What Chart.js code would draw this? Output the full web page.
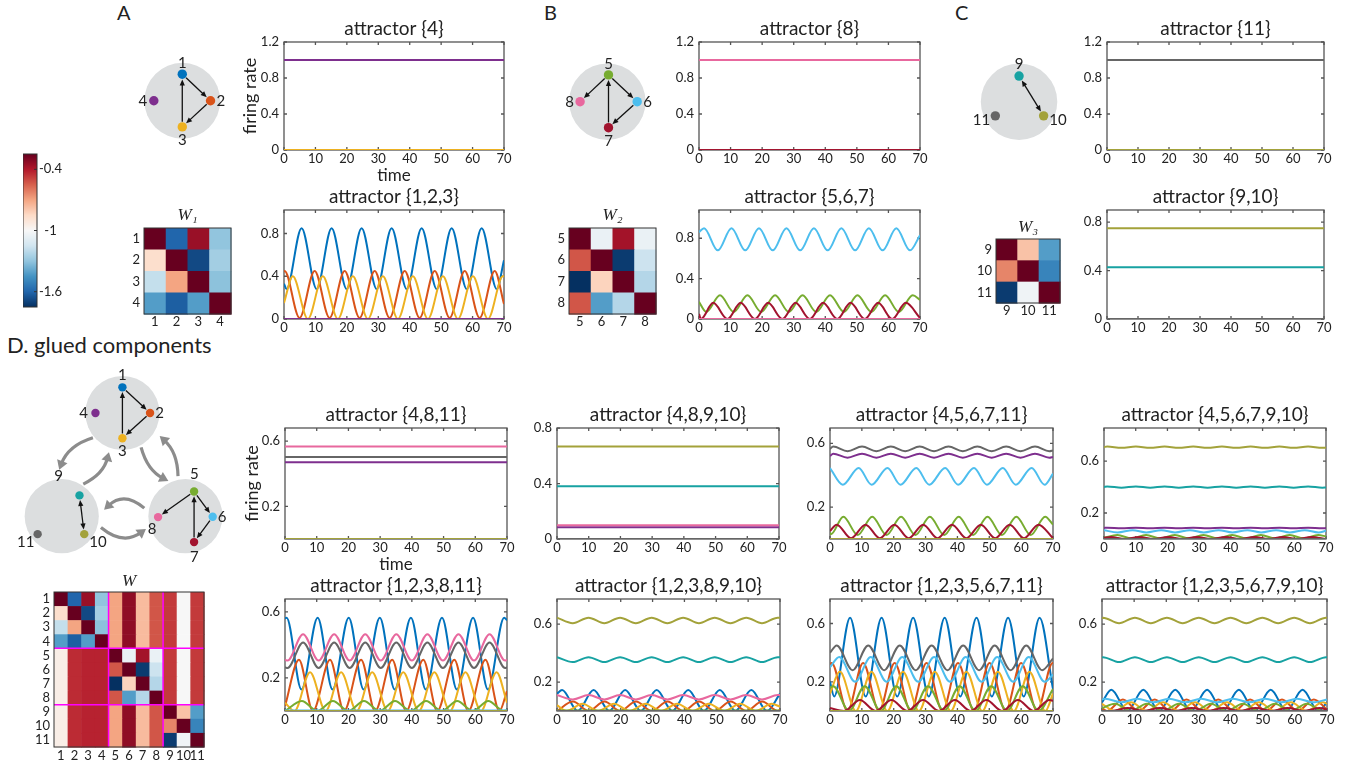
<!DOCTYPE html>
<html>
<head>
<meta charset="utf-8">
<title>glued components</title>
<script src="https://cdn.jsdelivr.net/npm/chart.js@4.4.1/dist/chart.umd.min.js"></script>
<style>
  html, body { margin: 0; padding: 0; background: #fff; }
  body { position: relative; width: 1349px; height: 761px; overflow: hidden; font-family: Lato, "Open Sans", sans-serif; color: #222; }
  canvas { position: absolute; }
  .panel { position: absolute; font-size: 20px; line-height: 1; white-space: nowrap; }
</style>
</head>
<body>
<div class="panel" style="left:117px;top:2px">A</div>
<div class="panel" style="left:544px;top:2px">B</div>
<div class="panel" style="left:955px;top:2px">C</div>
<div class="panel" style="left:7px;top:334px;font-size:22px">D. glued components</div>
<script>
const FONT = 'Lato, "Open Sans", sans-serif';
const INK = '#222';

// neuron colours, neuron k -> neuronColors[k - 1]
const neuronColors = ['#0072BD', '#D95319', '#EDB120', '#7E2F8E', '#77AC30', '#4DBEEE',
                      '#A2142F', '#E8689E', '#17A2A2', '#A3A23A', '#666666'];

const timeTicks = [0, 10, 20, 30, 40, 50, 60, 70];

// ---- steady states (one level per neuron) ----
const at4_levels = [0, 0, 0, 1.0];                 // neurons 1-4
const at8_levels = [0, 0, 0, 1.0];                 // neurons 5-8
const at11_levels = [0, 0, 1.0];                   // neurons 9-11
const at910_levels = [0.428, 0.75, 0];             // neurons 9-11
const at4811_levels = [0, 0, 0, 0.47, 0, 0, 0, 0.567, 0, 0, 0.503];
const at48910_levels = [0, 0, 0, 0.084, 0, 0, 0, 0.1, 0.381, 0.668, 0];

// ---- limit cycles, [time, rate] ----
// attractor {1,2,3}
const at123_n1 = [[0,0.33],[0.8,0.28],[5.6,0.85],[10.4,0.28],[15.15,0.85],[19.95,0.28],[24.7,0.85],[29.5,0.28],[34.25,0.85],[39.05,0.28],[43.8,0.85],[48.6,0.28],[53.35,0.85],[58.15,0.28],[62.9,0.85],[67.7,0.28],[70,0.55]];
const at123_n2 = [[0,0.44],[0.2,0.45],[4.95,0.01],[9.75,0.45],[14.5,0.01],[19.3,0.45],[24.05,0.01],[28.85,0.45],[33.6,0.01],[38.4,0.45],[43.15,0.01],[47.95,0.45],[52.7,0.01],[57.5,0.45],[62.25,0.01],[67.05,0.45],[70,0.14]];
const at123_n3 = [[0,0.15],[2.8,0.4],[7.6,0],[12.35,0.4],[17.15,0],[21.9,0.4],[26.7,0],[31.45,0.4],[36.25,0],[41.0,0.4],[45.8,0],[50.55,0.4],[55.35,0],[60.1,0.4],[64.9,0],[69.65,0.4],[70,0.4]];

// attractor {5,6,7}
const at567_n5 = [[0,0.17],[2.3,0.07],[6.65,0.235],[11.0,0.07],[15.35,0.235],[19.7,0.07],[24.1,0.235],[28.45,0.07],[32.8,0.235],[37.15,0.07],[41.5,0.235],[45.9,0.07],[50.2,0.235],[54.6,0.07],[58.95,0.235],[63.3,0.07],[67.7,0.235],[70,0.19]];
const at567_n6 = [[0,0.86],[1.6,0.9],[5.95,0.68],[10.3,0.9],[14.65,0.68],[19.0,0.9],[23.35,0.68],[27.7,0.9],[32.05,0.68],[36.4,0.9],[40.75,0.68],[45.1,0.9],[49.45,0.68],[53.8,0.9],[58.15,0.68],[62.5,0.9],[66.85,0.68],[70,0.83]];
const at567_n7 = [[0,0.05],[0.6,0],[4.5,0.16],[9.0,0],[13.2,0.16],[17.7,0],[21.9,0.16],[26.4,0],[30.6,0.16],[35.1,0],[39.3,0.16],[43.8,0],[48.0,0.16],[52.5,0],[56.75,0.16],[61.2,0],[65.5,0.16],[70,0.01]];

// attractor {4,5,6,7,11}
const d3_n4 = [[0,0.52],[1.0,0.535],[5.5,0.51],[10.05,0.535],[14.55,0.51],[19.1,0.535],[23.6,0.51],[28.15,0.535],[32.65,0.51],[37.2,0.535],[41.7,0.51],[46.25,0.535],[50.75,0.51],[55.3,0.535],[59.8,0.51],[64.35,0.535],[68.85,0.51],[70,0.515]];
const d3_n5 = [[0,0.04],[0.3,0.03],[4.2,0.14],[8.7,0.025],[13.25,0.14],[17.75,0.025],[22.3,0.14],[26.8,0.025],[31.35,0.14],[35.85,0.025],[40.4,0.14],[44.9,0.025],[49.45,0.14],[53.95,0.025],[58.5,0.14],[63.0,0.025],[67.55,0.14],[70,0.09]];
const d3_n6 = [[0,0.445],[4.0,0.34],[9.0,0.445],[13.05,0.34],[18.05,0.445],[22.1,0.34],[27.1,0.445],[31.15,0.34],[36.15,0.445],[40.2,0.34],[45.2,0.445],[49.25,0.34],[54.25,0.445],[58.3,0.34],[63.3,0.445],[67.35,0.34],[70,0.41]];
const d3_n7 = [[0,0.05],[2.1,0.09],[6.6,0.005],[11.15,0.09],[15.65,0.005],[20.2,0.09],[24.7,0.005],[29.25,0.09],[33.75,0.005],[38.3,0.09],[42.8,0.005],[47.35,0.09],[51.85,0.005],[56.4,0.09],[60.9,0.005],[65.45,0.09],[70,0.005]];
const d3_n11 = [[0,0.565],[1.0,0.58],[5.5,0.55],[10.05,0.58],[14.55,0.55],[19.1,0.58],[23.6,0.55],[28.15,0.58],[32.65,0.55],[37.2,0.58],[41.7,0.55],[46.25,0.58],[50.75,0.55],[55.3,0.58],[59.8,0.55],[64.35,0.58],[68.85,0.55],[70,0.555]];

// attractor {4,5,6,7,9,10}
const d4_n4 = [[0,0.085],[1.0,0.087],[5.5,0.083],[10.05,0.087],[14.55,0.083],[19.1,0.087],[23.6,0.083],[28.15,0.087],[32.65,0.083],[37.2,0.087],[41.7,0.083],[46.25,0.087],[50.75,0.083],[55.3,0.087],[59.8,0.083],[64.35,0.087],[68.85,0.083],[70,0.084]];
const d4_n5 = [[0,0.01],[4.2,0.03],[8.7,0.005],[13.25,0.03],[17.75,0.005],[22.3,0.03],[26.8,0.005],[31.35,0.03],[35.85,0.005],[40.4,0.03],[44.9,0.005],[49.45,0.03],[53.95,0.005],[58.5,0.03],[63.0,0.005],[67.55,0.03],[70,0.02]];
const d4_n6 = [[0,0.068],[4.3,0.05],[9.0,0.068],[13.35,0.05],[18.05,0.068],[22.4,0.05],[27.1,0.068],[31.45,0.05],[36.15,0.068],[40.5,0.05],[45.2,0.068],[49.55,0.05],[54.25,0.068],[58.6,0.05],[63.3,0.068],[67.65,0.05],[70,0.064]];
const d4_n7 = [[0,0.008],[2.1,0.015],[6.6,0],[11.15,0.015],[15.65,0],[20.2,0.015],[24.7,0],[29.25,0.015],[33.75,0],[38.3,0.015],[42.8,0],[47.35,0.015],[51.85,0],[56.4,0.015],[60.9,0],[65.45,0.015],[70,0]];
const d4_n9 = [[0,0.4],[1.0,0.405],[5.5,0.395],[10.05,0.405],[14.55,0.395],[19.1,0.405],[23.6,0.395],[28.15,0.405],[32.65,0.395],[37.2,0.405],[41.7,0.395],[46.25,0.405],[50.75,0.395],[55.3,0.405],[59.8,0.395],[64.35,0.405],[68.85,0.395],[70,0.397]];
const d4_n10 = [[0,0.707],[1.0,0.712],[5.5,0.702],[10.05,0.712],[14.55,0.702],[19.1,0.712],[23.6,0.702],[28.15,0.712],[32.65,0.702],[37.2,0.712],[41.7,0.702],[46.25,0.712],[50.75,0.702],[55.3,0.712],[59.8,0.702],[64.35,0.712],[68.85,0.702],[70,0.704]];

// attractor {1,2,3,8,11}
const d5_n1 = [[0,0.56],[0.5,0.565],[5.2,0.13],[10.3,0.565],[15.0,0.13],[20.1,0.565],[24.8,0.13],[29.9,0.565],[34.6,0.13],[39.7,0.565],[44.4,0.13],[49.5,0.565],[54.2,0.13],[59.3,0.565],[64.0,0.13],[69.1,0.565],[70,0.55]];
const d5_n2 = [[0,0.03],[4.4,0.31],[8.8,0],[14.2,0.31],[18.6,0],[24.0,0.31],[28.4,0],[33.8,0.31],[38.2,0],[43.6,0.31],[48.0,0],[53.4,0.31],[57.8,0],[63.2,0.31],[67.6,0],[70,0.12]];
const d5_n3 = [[0,0.05],[3.0,0],[7.9,0.235],[12.8,0],[17.7,0.235],[22.6,0],[27.5,0.235],[32.4,0],[37.3,0.235],[42.2,0],[47.1,0.235],[52.0,0],[56.9,0.235],[61.8,0],[66.7,0.235],[70,0.05]];
const d5_n5 = [[0,0],[5.3,0.06],[10.2,0],[15.1,0.06],[20.0,0],[24.9,0.06],[29.8,0],[34.7,0.06],[39.6,0],[44.5,0.06],[49.4,0],[54.3,0.06],[59.2,0],[64.1,0.06],[69.0,0],[70,0.005]];
const d5_n8 = [[0,0.31],[0.8,0.305],[5.7,0.465],[10.6,0.305],[15.5,0.465],[20.4,0.305],[25.3,0.465],[30.2,0.305],[35.1,0.465],[40.0,0.305],[44.9,0.465],[49.8,0.305],[54.7,0.465],[59.6,0.305],[64.5,0.465],[69.4,0.305],[70,0.31]];
const d5_n11 = [[0,0.265],[0.8,0.26],[5.7,0.415],[10.6,0.26],[15.5,0.415],[20.4,0.26],[25.3,0.415],[30.2,0.26],[35.1,0.415],[40.0,0.26],[44.9,0.415],[49.8,0.26],[54.7,0.415],[59.6,0.26],[64.5,0.415],[69.4,0.26],[70,0.265]];

// attractor {1,2,3,8,9,10}
const d6_n1 = [[0,0.12],[1.6,0.145],[6.5,0],[11.5,0.145],[16.4,0],[21.4,0.145],[26.3,0],[31.3,0.145],[36.2,0],[41.2,0.145],[46.1,0],[51.1,0.145],[56.0,0],[61.0,0.145],[65.9,0],[70,0.12]];
const d6_n2 = [[0,0],[5.0,0.065],[9.9,0],[14.9,0.065],[19.8,0],[24.8,0.065],[29.7,0],[34.7,0.065],[39.6,0],[44.6,0.065],[49.5,0],[54.5,0.065],[59.4,0],[64.4,0.065],[69.3,0],[70,0.01]];
const d6_n3 = [[0,0.04],[3.0,0],[8.0,0.05],[12.9,0],[17.9,0.05],[22.8,0],[27.8,0.05],[32.7,0],[37.7,0.05],[42.6,0],[47.6,0.05],[52.5,0],[57.5,0.05],[62.4,0],[67.4,0.05],[70,0.03]];
const d6_n8 = [[0,0.11],[4.95,0.08],[9.9,0.11],[14.85,0.08],[19.8,0.11],[24.75,0.08],[29.7,0.11],[34.65,0.08],[39.6,0.11],[44.55,0.08],[49.5,0.11],[54.45,0.08],[59.4,0.11],[64.35,0.08],[69.3,0.11],[70,0.11]];
const d6_n9 = [[0,0.372],[4.95,0.338],[9.9,0.372],[14.85,0.338],[19.8,0.372],[24.75,0.338],[29.7,0.372],[34.65,0.338],[39.6,0.372],[44.55,0.338],[49.5,0.372],[54.45,0.338],[59.4,0.372],[64.35,0.338],[69.3,0.372],[70,0.372]];
const d6_n10 = [[0,0.645],[4.95,0.607],[9.9,0.645],[14.85,0.607],[19.8,0.645],[24.75,0.607],[29.7,0.645],[34.65,0.607],[39.6,0.645],[44.55,0.607],[49.5,0.645],[54.45,0.607],[59.4,0.645],[64.35,0.607],[69.3,0.645],[70,0.645]];

// attractor {1,2,3,5,6,7,11}
const d7_n1 = [[0,0.2],[1.3,0.1],[6.3,0.64],[11.2,0.1],[16.2,0.64],[21.1,0.1],[26.1,0.64],[31.0,0.1],[36.0,0.64],[40.9,0.1],[46.0,0.64],[50.8,0.1],[55.9,0.64],[60.8,0.1],[65.8,0.64],[70,0.15]];
const d7_n2 = [[0,0.32],[0.5,0.33],[5.5,0],[10.4,0.33],[15.4,0],[20.3,0.33],[25.3,0],[30.3,0.33],[35.3,0],[40.2,0.33],[45.2,0],[50.1,0.33],[55.1,0],[60.0,0.33],[65.0,0],[69.9,0.33],[70,0.33]];
const d7_n3 = [[0,0.12],[3.1,0.27],[8.1,0],[13.0,0.27],[18.0,0],[22.9,0.27],[27.9,0],[32.9,0.27],[37.9,0],[42.8,0.27],[47.8,0],[52.7,0.27],[57.7,0],[62.6,0.27],[67.6,0],[70,0.12]];
const d7_n5 = [[0,0.16],[1.0,0.17],[6.0,0],[10.9,0.17],[15.9,0],[20.8,0.17],[25.8,0],[30.8,0.17],[35.8,0],[40.7,0.17],[45.7,0],[50.6,0.17],[55.6,0],[60.5,0.17],[65.5,0],[70,0.15]];
const d7_n6 = [[0,0.3],[2.9,0.37],[7.9,0.2],[12.8,0.37],[17.8,0.2],[22.7,0.37],[27.7,0.2],[32.7,0.37],[37.7,0.2],[42.6,0.37],[47.6,0.2],[52.5,0.37],[57.5,0.2],[62.4,0.37],[67.4,0.2],[70,0.25]];
const d7_n7 = [[0,0.02],[4.4,0],[9.4,0.075],[14.3,0],[19.3,0.075],[24.2,0],[29.2,0.075],[34.2,0],[39.2,0.075],[44.1,0],[49.1,0.075],[54.0,0],[59.0,0.075],[63.9,0],[68.9,0.075],[70,0.07]];
const d7_n11 = [[0,0.4],[2.1,0.45],[7.1,0.28],[12.0,0.45],[17.0,0.28],[21.9,0.45],[26.9,0.28],[31.9,0.45],[36.9,0.28],[41.8,0.45],[46.8,0.28],[51.7,0.45],[56.7,0.28],[61.6,0.45],[66.6,0.28],[70,0.36]];

// attractor {1,2,3,5,6,7,9,10}
const d8_n1 = [[0,0.06],[2.9,0.147],[7.9,0],[12.85,0.147],[17.8,0],[22.8,0.147],[27.7,0],[32.7,0.147],[37.6,0],[42.6,0.147],[47.5,0],[52.5,0.147],[57.4,0],[62.4,0.147],[67.3,0],[70,0.06]];
const d8_n2 = [[0,0.02],[1.5,0],[6.5,0.08],[11.4,0],[16.4,0.08],[21.3,0],[26.3,0.08],[31.2,0],[36.2,0.08],[41.1,0],[46.1,0.08],[51.0,0],[56.0,0.08],[60.9,0],[65.9,0.08],[70,0.01]];
const d8_n3 = [[0,0.05],[4.0,0],[9.0,0.06],[13.95,0],[18.95,0.06],[23.9,0],[28.9,0.06],[33.85,0],[38.85,0.06],[43.8,0],[48.8,0.06],[53.75,0],[58.75,0.06],[63.7,0],[68.7,0.06],[70,0.05]];
const d8_n5 = [[0,0.02],[4.0,0.05],[9.0,0],[13.95,0.05],[18.95,0],[23.9,0.05],[28.9,0],[33.85,0.05],[38.85,0],[43.8,0.05],[48.8,0],[53.75,0.05],[58.75,0],[63.7,0.05],[68.7,0],[70,0.01]];
const d8_n6 = [[0,0.08],[1.0,0.085],[6.0,0.06],[10.95,0.085],[15.95,0.06],[20.9,0.085],[25.9,0.06],[30.85,0.085],[35.85,0.06],[40.8,0.085],[45.8,0.06],[50.75,0.085],[55.75,0.06],[60.7,0.085],[65.7,0.06],[70,0.08]];
const d8_n7 = [[0,0],[3.0,0],[8.0,0.02],[12.95,0],[17.95,0.02],[22.9,0],[27.9,0.02],[32.85,0],[37.85,0.02],[42.8,0],[47.8,0.02],[52.75,0],[57.75,0.02],[62.7,0],[67.7,0.02],[70,0.01]];
const d8_n9 = [[0,0.37],[0.3,0.372],[5.3,0.338],[10.25,0.372],[15.2,0.338],[20.2,0.372],[25.1,0.338],[30.1,0.372],[35.0,0.338],[40.0,0.372],[44.9,0.338],[49.9,0.372],[54.8,0.338],[59.8,0.372],[64.7,0.338],[69.7,0.372],[70,0.372]];
const d8_n10 = [[0,0.64],[0.3,0.645],[5.3,0.607],[10.25,0.645],[15.2,0.607],[20.2,0.645],[25.1,0.607],[30.1,0.645],[35.0,0.607],[40.0,0.645],[44.9,0.607],[49.9,0.645],[54.8,0.607],[59.8,0.645],[64.7,0.607],[69.7,0.645],[70,0.645]];

// ---- connectivity matrices ----
const W1 = [[0, -1.6, -0.35, -1.3], [-0.87, 0, -1.68, -1.26], [-1.18, -0.7, 0, -1.31], [-1.42, -1.62, -1.42, 0]];
const W2 = [[0, -1.05, -0.37, -1.05], [-0.53, 0, -1.72, -1.16], [-1.75, -0.83, 0, -1.22], [-0.53, -1.42, -1.22, 0]];
const W3 = [[0, -0.78, -1.42], [-0.63, 0, -1.5], [-1.72, -1.03, 0]];
// off-block entries of the glued W, one value per presynaptic neuron (column)
const wGlueByCol = [-0.95, -0.44, -0.42, -0.42, -0.7, -0.33, -0.76, -0.53, -0.47, -1.0, -0.47];
const cbarTicks = [-1.6, -1, -0.4];
const cLim = [-1.75, -0.25];

// glued matrix: components on the diagonal, column values elsewhere
const blocks = [[W1, 0], [W2, 4], [W3, 8]];
const W = wGlueByCol.map((_, i) => wGlueByCol.map((v, j) => {
  const blk = blocks.find(([m, o]) => i >= o && i < o + m.length && j >= o && j < o + m.length);
  return blk ? blk[0][i - blk[1]][j - blk[1]] : v;
}));

// ---- network layouts (unit = disc radius) ----
const graphA = {
  nodes: [1, 2, 3, 4], discs: [[0, 0]],
  xy: [[0, 0.70], [0.745, 0], [0, -0.69], [-0.75, 0]],
  lab: [[0, 1.0], [1.02, 0], [0, -1.04], [-1.04, 0]],
  edges: [[1, 2], [2, 3], [3, 1]], both: [], arcs: []
};
const graphB = {
  nodes: [5, 6, 7, 8], discs: [[-0.03, 0]],
  xy: [[0, 0.70], [0.75, 0], [0, -0.68], [-0.743, 0]],
  lab: [[0, 0.99], [1.02, 0], [0, -1.03], [-1.02, 0]],
  edges: [[5, 6], [6, 7], [7, 5], [5, 8]], both: [], arcs: []
};
const graphC = {
  nodes: [9, 10, 11], discs: [[0, 0]],
  xy: [[0, 0.67], [0.643, -0.371], [-0.62, -0.371]],
  lab: [[0, 0.99], [1.02, -0.48], [-0.98, -0.48]],
  edges: [], both: [[9, 10]], arcs: []
};
const graphD = {
  nodes: [1, 2, 3, 4, 5, 6, 7, 8, 9, 10, 11],
  discs: [[0, 0], [-1.636, -2.787], [1.699, -2.787]],
  xy: [[0, 0.694], [0.745, 0], [0, -0.68], [-0.727, 0], [1.932, -2.122], [2.434, -2.805],
       [1.932, -3.488], [0.961, -2.813], [-1.158, -2.226], [-1.029, -3.273], [-2.286, -3.273]],
  lab: [[0, 1.01], [1.005, 0], [0, -1.04], [-1.047, 0], [1.94, -1.66], [2.69, -2.805],
        [1.94, -3.9], [0.80, -3.135], [-1.72, -1.71], [-0.657, -3.48], [-2.605, -3.48]],
  edges: [[1, 2], [2, 3], [3, 1], [5, 6], [6, 7], [7, 5], [5, 8]], both: [[9, 10]],
  // component-to-component arrows: start, control, tip
  arcs: [[[-0.795, -0.668], [-1.465, -0.875], [-1.704, -1.532]],
         [[-1.055, -1.922], [-0.506, -1.652], [-0.364, -1.057]],
         [[0.504, -0.927], [0.67, -1.545], [1.239, -1.836]],
         [[1.499, -1.706], [1.488, -1.057], [1.005, -0.623]],
         [[0.59, -2.571], [0.044, -2.104], [-0.494, -2.616]],
         [[-0.579, -3.091], [0.018, -3.584], [0.634, -3.135]]]
};

// ---------------------------------------------------------------
function addCanvas(left, top, w, h) {
  const cv = document.createElement('canvas');
  cv.width = w; cv.height = h;
  cv.style.left = left + 'px'; cv.style.top = top + 'px';
  cv.style.width = w + 'px'; cv.style.height = h + 'px';
  document.body.appendChild(cv);
  return cv;
}

function toPoints(d) {
  return typeof d === 'number'
    ? [{ x: timeTicks[0], y: d }, { x: timeTicks[timeTicks.length - 1], y: d }]
    : d.map(([x, y]) => ({ x, y }));
}

const hex = c => [1, 3, 5].map(i => parseInt(c.slice(i, i + 2), 16));
const rdbu = ['#053061', '#2166ac', '#4393c3', '#92c5de', '#d1e5f0', '#f7f7f7',
              '#fddbc7', '#f4a582', '#d6604d', '#b2182b', '#67001f'].map(hex);
function cmap(v) {
  let f = (v - cLim[0]) / (cLim[1] - cLim[0]);
  f = Math.max(0, Math.min(1, f)) * (rdbu.length - 1);
  const i = Math.min(Math.floor(f), rdbu.length - 2), u = f - i;
  const c = rdbu[i].map((a, k) => Math.round(a + (rdbu[i + 1][k] - a) * u));
  return `rgb(${c[0]},${c[1]},${c[2]})`;
}

// matlab style box with inward ticks on all four sides
const axesBox = {
  id: 'axesBox',
  beforeDatasetsDraw(chart) {
    const { ctx, chartArea: a, scales: { x, y } } = chart;
    ctx.save();
    ctx.strokeStyle = '#555';
    ctx.lineWidth = 1.3;
    ctx.strokeRect(a.left, a.top, a.right - a.left, a.bottom - a.top);
    ctx.beginPath();
    x.ticks.forEach(t => {
      const p = x.getPixelForValue(t.value);
      ctx.moveTo(p, a.bottom); ctx.lineTo(p, a.bottom - 3);
      ctx.moveTo(p, a.top); ctx.lineTo(p, a.top + 3);
    });
    y.ticks.forEach(t => {
      const p = y.getPixelForValue(t.value);
      ctx.moveTo(a.left, p); ctx.lineTo(a.left + 3, p);
      ctx.moveTo(a.right, p); ctx.lineTo(a.right - 3, p);
    });
    ctx.stroke();
    ctx.restore();
  }
};

const noInteraction = { responsive: false, animation: false, events: [] };
const quiet = { legend: { display: false }, tooltip: { enabled: false } };
const tickFont = { family: FONT, size: 13 };

function lineChart(s) {
  const [l, t, r, b] = s.box;
  const yw = s.yLab ? 45 : 30, xh = s.xLab ? 36 : 20, th = 26, pr = 12;
  const cv = addCanvas(l - yw, t - th, yw + (r - l) + pr, th + (b - t) + xh);
  // later neurons are painted over earlier ones
  const datasets = s.data.map((d, i) => ({
    data: toPoints(d),
    order: -i,
    borderColor: neuronColors[s.first - 1 + i],
    borderWidth: 2, pointRadius: 0, fill: false,
    cubicInterpolationMode: 'monotone'
  }));
  const ymax = 1.2 * Math.max(...datasets.flatMap(d => d.data.map(p => p.y)));
  new Chart(cv, {
    type: 'line',
    data: { datasets },
    options: {
      ...noInteraction,
      layout: { padding: { left: 0, right: pr, top: 0, bottom: 0 } },
      plugins: {
        ...quiet,
        title: { display: true, text: s.title, fullSize: false, color: INK,
                 font: { family: FONT, size: 19, weight: 'normal' }, padding: { top: 1.6, bottom: 1.6 } }
      },
      scales: {
        x: {
          type: 'linear', min: timeTicks[0], max: timeTicks[timeTicks.length - 1],
          grid: { display: false, drawTicks: false }, border: { display: false },
          ticks: { color: INK, font: tickFont, padding: 1.5, maxRotation: 0, autoSkip: false, callback: v => String(v) },
          afterBuildTicks: a => { a.ticks = timeTicks.map(v => ({ value: v })); },
          afterFit: a => { a.height = xh; },
          title: { display: !!s.xLab, text: 'time', color: INK, font: { family: FONT, size: 17 }, padding: { top: 0, bottom: 0 } }
        },
        y: {
          type: 'linear', min: 0, max: ymax,
          grid: { display: false, drawTicks: false }, border: { display: false },
          ticks: { color: INK, font: tickFont, padding: 5, autoSkip: false, callback: v => String(+v.toFixed(2)) },
          afterBuildTicks: a => { a.ticks = s.yTicks.map(v => ({ value: v })); },
          afterFit: a => { a.width = yw; },
          title: { display: !!s.yLab, text: 'firing rate', color: INK, font: { family: FONT, size: 18 }, padding: { top: s.yLabPad || 0, bottom: 0 } }
        }
      }
    },
    plugins: [axesBox]
  });
}

function heatChart(s) {
  const [l, t, r, b] = s.box;
  const n = s.labels.length, xh = 20, th = 24, pr = 5;
  const cv = addCanvas(l - s.yw, t - th, s.yw + (r - l) + pr, th + (b - t) + xh);
  const pt = th - s.titleGap - 10.2;
  const axis = (extra) => Object.assign({
    type: 'linear', min: 0.5, max: n + 0.5,
    grid: { display: false, drawTicks: false }, border: { display: false },
    afterBuildTicks: a => { a.ticks = s.labels.map((_, i) => ({ value: i + 1 })); }
  }, extra);
  new Chart(cv, {
    type: 'scatter',
    data: { datasets: [] },
    options: {
      ...noInteraction,
      layout: { padding: { left: 0, right: pr, top: 0, bottom: 0 } },
      plugins: {
        ...quiet,
        title: { display: true, text: s.title, fullSize: false, color: INK,
                 font: { family: '"Liberation Serif", "DejaVu Serif", serif', size: 17, style: 'italic', weight: 'normal' },
                 padding: { top: pt, bottom: th - 20.4 - pt } }
      },
      scales: {
        x: axis({ ticks: { color: INK, font: tickFont, padding: s.xPad, autoSkip: false, maxRotation: 0, callback: (v, i) => s.labels[i] },
                  afterFit: a => { a.height = xh; } }),
        y: axis({ reverse: true, ticks: { color: INK, font: tickFont, padding: 4, autoSkip: false, callback: (v, i) => s.labels[i] },
                  afterFit: a => { a.width = s.yw; } })
      }
    },
    plugins: [{
      id: 'cells',
      beforeDatasetsDraw(chart) {
        const { ctx, chartArea: a, scales: { x, y } } = chart;
        ctx.save();
        s.matrix.forEach((row, i) => row.forEach((v, j) => {
          const x0 = x.getPixelForValue(j + 0.5), x1 = x.getPixelForValue(j + 1.5);
          const y0 = y.getPixelForValue(i + 0.5), y1 = y.getPixelForValue(i + 1.5);
          ctx.fillStyle = cmap(v);
          ctx.fillRect(x0, Math.min(y0, y1), x1 - x0 + 0.6, Math.abs(y1 - y0) + 0.6);
        }));
        if (s.splits) {
          ctx.strokeStyle = '#ff00ff';
          ctx.lineWidth = 1.5;
          ctx.beginPath();
          s.splits.forEach(k => {
            const px = x.getPixelForValue(k), py = y.getPixelForValue(k);
            ctx.moveTo(px, a.top); ctx.lineTo(px, a.bottom);
            ctx.moveTo(a.left, py); ctx.lineTo(a.right, py);
          });
          ctx.stroke();
        }
        ctx.strokeStyle = '#333';
        ctx.lineWidth = 1;
        ctx.strokeRect(a.left, a.top, a.right - a.left, a.bottom - a.top);
        ctx.restore();
      }
    }]
  });
}

function colorbarChart(box) {
  const [l, t, r, b] = box, aw = 28, pad = 10;
  const cv = addCanvas(l, t - pad, (r - l) + aw, (b - t) + 2 * pad);
  new Chart(cv, {
    type: 'scatter',
    data: { datasets: [] },
    options: {
      ...noInteraction,
      layout: { padding: { left: 0, right: 0, top: pad, bottom: pad } },
      plugins: quiet,
      scales: {
        x: { display: false, min: 0, max: 1 },
        y: {
          position: 'right', min: cLim[0], max: cLim[1],
          grid: { display: false, drawTicks: false }, border: { display: false },
          ticks: { color: INK, font: tickFont, padding: 2, crossAlign: 'center', callback: v => String(v) },
          afterBuildTicks: a => { a.ticks = cbarTicks.map(v => ({ value: v })); },
          afterFit: a => { a.width = aw; }
        }
      }
    },
    plugins: [{
      id: 'ramp',
      beforeDatasetsDraw(chart) {
        const { ctx, chartArea: a, scales: { y } } = chart;
        ctx.save();
        for (let py = Math.floor(a.top); py < a.bottom; py++) {
          ctx.fillStyle = cmap(y.getValueForPixel(py + 0.5));
          ctx.fillRect(a.left, py, a.right - a.left, 1);
        }
        ctx.strokeStyle = '#333';
        ctx.lineWidth = 1;
        ctx.strokeRect(a.left, a.top, a.right - a.left, a.bottom - a.top);
        ctx.beginPath();
        cbarTicks.forEach(v => {
          const p = y.getPixelForValue(v);
          ctx.moveTo(a.right, p); ctx.lineTo(a.right - 3, p);
        });
        ctx.stroke();
        ctx.restore();
      }
    }]
  });
}

function arrowHead(ctx, tip, dir, len, half) {
  const [dx, dy] = dir;
  ctx.beginPath();
  ctx.moveTo(tip[0], tip[1]);
  ctx.lineTo(tip[0] - dx * len - dy * half, tip[1] - dy * len + dx * half);
  ctx.lineTo(tip[0] - dx * len + dy * half, tip[1] - dy * len - dx * half);
  ctx.closePath();
  ctx.fill();
}

function graphChart(g, cx, cy, unit, xr, yr, r) {
  const left = Math.round(cx + xr[0] * unit), top = Math.round(cy - yr[1] * unit);
  const w = Math.round((xr[1] - xr[0]) * unit), h = Math.round((yr[1] - yr[0]) * unit);
  const cv = addCanvas(left, top, w, h);
  const idx = n => g.nodes.indexOf(n);
  new Chart(cv, {
    type: 'scatter',
    data: { datasets: [{
      data: g.xy.map(([x, y]) => ({ x, y })),
      pointRadius: r, pointHoverRadius: r, pointBorderWidth: 0,
      pointBackgroundColor: g.nodes.map(n => neuronColors[n - 1])
    }] },
    options: {
      ...noInteraction,
      layout: { padding: 0 },
      plugins: quiet,
      scales: {
        x: { display: false, min: (left - cx) / unit, max: (left + w - cx) / unit },
        y: { display: false, min: (cy - top - h) / unit, max: (cy - top) / unit }
      }
    },
    plugins: [{
      id: 'graph',
      beforeDatasetsDraw(chart) {
        const { ctx, scales: { x, y } } = chart;
        const P = ([a, b]) => [x.getPixelForValue(a), y.getPixelForValue(b)];
        const rad = x.getPixelForValue(1) - x.getPixelForValue(0);
        ctx.save();
        ctx.fillStyle = '#dcdedf';
        g.discs.forEach(d => {
          const [px, py] = P(d);
          ctx.beginPath(); ctx.arc(px, py, rad, 0, 2 * Math.PI); ctx.fill();
        });
        // arrows between components
        ctx.strokeStyle = ctx.fillStyle = '#8c8c8c';
        ctx.lineWidth = 3.2;
        g.arcs.forEach(([p0, c, p2]) => {
          const a0 = P(p0), ac = P(c), a2 = P(p2);
          let dx = a2[0] - ac[0], dy = a2[1] - ac[1];
          const len = Math.hypot(dx, dy); dx /= len; dy /= len;
          ctx.beginPath();
          ctx.moveTo(a0[0], a0[1]);
          ctx.quadraticCurveTo(ac[0], ac[1], a2[0] - dx * 6, a2[1] - dy * 6);
          ctx.stroke();
          arrowHead(ctx, a2, [dx, dy], 9, 5.5);
        });
        // synaptic edges
        ctx.strokeStyle = ctx.fillStyle = '#111';
        ctx.lineWidth = 1.3;
        const edge = (a, b, twoWay) => {
          const pa = P(g.xy[idx(a)]), pb = P(g.xy[idx(b)]);
          let dx = pb[0] - pa[0], dy = pb[1] - pa[1];
          const len = Math.hypot(dx, dy); dx /= len; dy /= len;
          const gap = r + 0.5;
          const s = [pa[0] + dx * gap, pa[1] + dy * gap], e = [pb[0] - dx * gap, pb[1] - dy * gap];
          ctx.beginPath();
          ctx.moveTo(s[0] + (twoWay ? dx * 4 : 0), s[1] + (twoWay ? dy * 4 : 0));
          ctx.lineTo(e[0] - dx * 4, e[1] - dy * 4);
          ctx.stroke();
          arrowHead(ctx, e, [dx, dy], 6, 2.6);
          if (twoWay) arrowHead(ctx, s, [-dx, -dy], 6, 2.6);
        };
        g.edges.forEach(([a, b]) => edge(a, b, false));
        g.both.forEach(([a, b]) => edge(a, b, true));
        ctx.restore();
      },
      afterDatasetsDraw(chart) {
        const { ctx, scales: { x, y } } = chart;
        ctx.save();
        ctx.fillStyle = INK;
        ctx.font = `15px ${FONT}`;
        ctx.textAlign = 'center';
        ctx.textBaseline = 'middle';
        g.lab.forEach(([a, b], i) => ctx.fillText(String(g.nodes[i]), x.getPixelForValue(a), y.getPixelForValue(b)));
        ctx.restore();
      }
    }]
  });
}

// ---- panels ----
const lineSpecs = [
  { title: 'attractor {4}', box: [284, 42, 504, 150], yTicks: [0, 0.4, 0.8, 1.2], first: 1, data: at4_levels, yLab: true, yLabPad: 0, xLab: true },
  { title: 'attractor {8}', box: [699, 42, 920, 150], yTicks: [0, 0.4, 0.8, 1.2], first: 5, data: at8_levels },
  { title: 'attractor {11}', box: [1107, 42, 1324, 150], yTicks: [0, 0.4, 0.8, 1.2], first: 9, data: at11_levels },
  { title: 'attractor {1,2,3}', box: [284, 210, 504, 319], yTicks: [0, 0.4, 0.8], first: 1, data: [at123_n1, at123_n2, at123_n3, 0] },
  { title: 'attractor {5,6,7}', box: [699, 210, 920, 319], yTicks: [0, 0.4, 0.8], first: 5, data: [at567_n5, at567_n6, at567_n7, 0] },
  { title: 'attractor {9,10}', box: [1107, 210, 1324, 319], yTicks: [0, 0.4, 0.8], first: 9, data: at910_levels },
  { title: 'attractor {4,8,11}', box: [285, 428, 507, 539], yTicks: [0.2, 0.6], first: 1, data: at4811_levels, yLab: true, yLabPad: 1.5, xLab: true },
  { title: 'attractor {4,8,9,10}', box: [557, 428, 779, 539], yTicks: [0, 0.4, 0.8], first: 1, data: at48910_levels },
  { title: 'attractor {4,5,6,7,11}', box: [830, 428, 1053, 539], yTicks: [0.2, 0.6], first: 1,
    data: [0, 0, 0, d3_n4, d3_n5, d3_n6, d3_n7, 0, 0, 0, d3_n11] },
  { title: 'attractor {4,5,6,7,9,10}', box: [1104, 428, 1326, 539], yTicks: [0.2, 0.6], first: 1,
    data: [0, 0, 0, d4_n4, d4_n5, d4_n6, d4_n7, 0, d4_n9, d4_n10, 0] },
  { title: 'attractor {1,2,3,8,11}', box: [285, 599, 507, 711], yTicks: [0.2, 0.6], first: 1,
    data: [d5_n1, d5_n2, d5_n3, 0, d5_n5, 0.003, 0, d5_n8, 0, 0, d5_n11] },
  { title: 'attractor {1,2,3,8,9,10}', box: [557, 599, 780, 711], yTicks: [0.2, 0.6], first: 1,
    data: [d6_n1, d6_n2, d6_n3, 0, 0.003, 0, 0, d6_n8, d6_n9, d6_n10, 0] },
  { title: 'attractor {1,2,3,5,6,7,11}', box: [830, 599, 1053, 711], yTicks: [0.2, 0.6], first: 1,
    data: [d7_n1, d7_n2, d7_n3, 0, d7_n5, d7_n6, d7_n7, 0, 0, 0, d7_n11] },
  { title: 'attractor {1,2,3,5,6,7,9,10}', box: [1102, 599, 1327, 711], yTicks: [0.2, 0.6], first: 1,
    data: [d8_n1, d8_n2, d8_n3, 0, d8_n5, d8_n6, d8_n7, 0, d8_n9, d8_n10, 0] }
];
lineSpecs.forEach(lineChart);

heatChart({ matrix: W1, labels: ['1', '2', '3', '4'], box: [144, 228, 231, 314], yw: 18, title: 'W₁', titleGap: 12.3, xPad: 0 });
heatChart({ matrix: W2, labels: ['5', '6', '7', '8'], box: [569, 228, 656, 314], yw: 18, title: 'W₂', titleGap: 12.3, xPad: 0 });
heatChart({ matrix: W3, labels: ['9', '10', '11'], box: [996, 239, 1060, 303], yw: 22, title: 'W₃', titleGap: 11.6, xPad: 0.5 });
heatChart({ matrix: W, labels: ['1', '2', '3', '4', '5', '6', '7', '8', '9', '10', '11'], box: [54, 592, 204, 747], yw: 22, title: 'W', titleGap: 10.3, xPad: 1.5, splits: [4.5, 8.5] });

colorbarChart([23, 154, 37, 307]);

graphChart(graphA, 182.3, 100.7, 41.7, [-1.25, 1.25], [-1.25, 1.25], 4.7);
graphChart(graphB, 608.5, 101.7, 42, [-1.25, 1.25], [-1.25, 1.25], 4.7);
graphChart(graphC, 1019, 101.7, 42, [-1.25, 1.25], [-1.25, 1.25], 4.7);
graphChart(graphD, 122.3, 411, 38.5, [-2.9, 3.05], [-4.15, 1.45], 4.2);
</script>
</body>
</html>
